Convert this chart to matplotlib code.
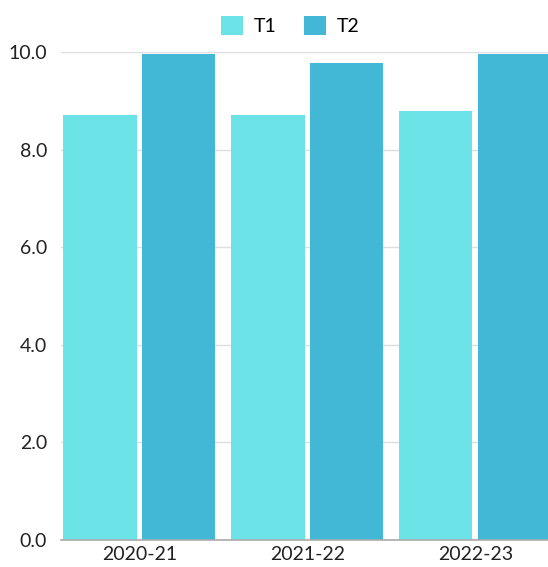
import numpy as np
from matplotlib import pyplot as plt

categories = ['2020-21', '2021-22', '2022-23']
t1_values = [8.7, 8.7, 8.8]
t2_values = [9.95, 9.78, 9.95]
y_ticks = [0.0, 2.0, 4.0, 6.0, 8.0, 10.0]

T1_COLOR = '#6be3e7'
T2_COLOR = '#42b7d6'

plt.rcParams['font.family'] = ['Lato', 'DejaVu Sans']

fig = plt.figure(figsize=(5.48, 5.67), dpi=100)
W, H = 548, 567
ax = fig.add_axes([61 / W, 27 / H, (W - 61) / W, (540 - 52) / H])

x = np.arange(len(categories))
width = 0.435
ax.bar(x - 0.235, t1_values, width, color=T1_COLOR, label='T1', zorder=2)
ax.bar(x + 0.235, t2_values, width, color=T2_COLOR, label='T2', zorder=2)

ax.set_xlim(-0.467, 2.432)
ax.set_ylim(0, 10.0)
ax.set_yticks(y_ticks)
ax.set_yticklabels(['{:.1f}'.format(v) for v in y_ticks])
ax.set_xticks(x)
ax.set_xticklabels(categories)
ax.tick_params(axis='both', length=0, labelsize=14, colors='#222222')
ax.tick_params(axis='y', pad=10)
ax.tick_params(axis='x', pad=4)

ax.yaxis.grid(True, color='#dedede', linewidth=1, zorder=0)
for s in ['top', 'right', 'left']:
    ax.spines[s].set_visible(False)
ax.spines['bottom'].set_color('#aaaaaa')
ax.spines['bottom'].set_linewidth(1.2)
ax.spines['bottom'].set_zorder(3)

# legend sits a bit right of the figure centre in the original
fig.legend(loc='upper center', bbox_to_anchor=(290 / W, 1.0), ncol=2, frameon=False,
           fontsize=14, handlelength=1.15, handleheight=1.15, columnspacing=1.4,
           handletextpad=0.55, borderaxespad=0.4)

fig.savefig('out.png', dpi=100)
